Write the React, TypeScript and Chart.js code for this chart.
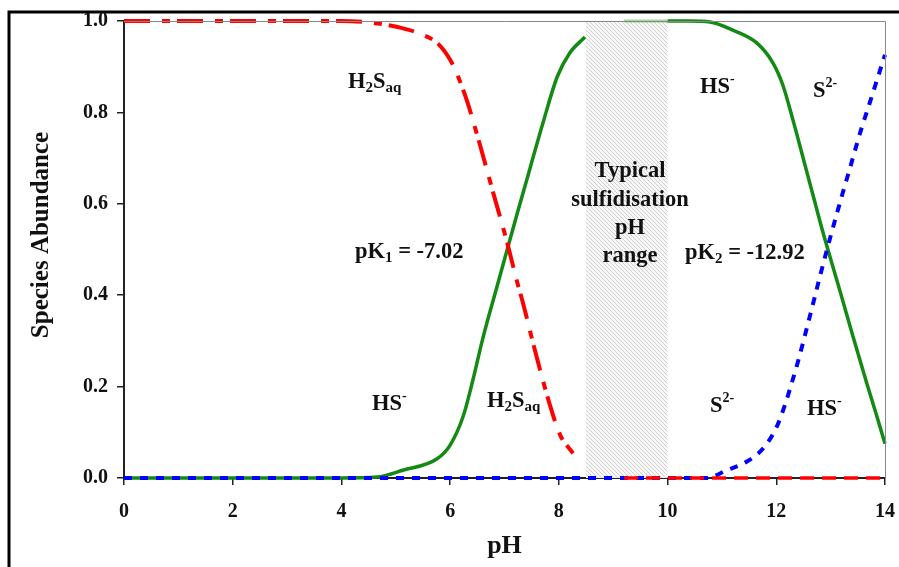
import React, { useEffect, useRef } from "react";
import { Chart, registerables } from "chart.js";

Chart.register(...registerables);

// ---- Data ----
const phH2S = [0, 1, 2, 3, 4, 4.5, 4.76, 5.1, 5.45, 5.78, 6.0, 6.14, 6.31, 6.51, 6.64, 6.79, 6.95, 7.05, 7.23, 7.34, 7.52, 7.71, 7.84, 8.02, 8.26];
const valH2S = [1, 1, 1, 1, 1, 0.997, 0.993, 0.985, 0.972, 0.95, 0.915, 0.88, 0.825, 0.745, 0.69, 0.625, 0.558, 0.515, 0.43, 0.383, 0.298, 0.212, 0.158, 0.095, 0.054];
const phH2SZero = [9.2, 14];
const valH2SZero = [0, 0];

const phHSa = [0, 1, 2, 3, 4, 4.65, 5.13, 5.76, 6.0, 6.24, 6.42, 6.6, 6.86, 7.05, 7.23, 7.47, 7.71, 7.97, 8.2, 8.48];
const valHSa = [0, 0, 0, 0, 0, 0.002, 0.017, 0.042, 0.072, 0.135, 0.215, 0.305, 0.418, 0.5, 0.577, 0.678, 0.778, 0.878, 0.93, 0.965];
const phHSmid = [9.2, 10.0];
const valHSmid = [1, 1];
const phHSb = [10.0, 10.4, 10.78, 11.2, 11.64, 11.94, 12.12, 12.31, 12.49, 12.68, 12.86, 13.17, 13.41, 13.67, 13.85, 14.0];
const valHSb = [1.0, 1.0, 0.998, 0.98, 0.952, 0.908, 0.86, 0.782, 0.702, 0.617, 0.537, 0.41, 0.31, 0.205, 0.135, 0.075];

const phS2 = [0, 2, 4, 6, 8, 10, 10.72, 11.09, 11.46, 11.76, 12.0, 12.16, 12.29, 12.4, 12.49, 12.62, 12.71, 12.8, 12.9, 12.99, 13.13, 13.23, 13.36, 13.48, 13.58, 13.69, 13.85, 14.0];
const valS2 = [0, 0, 0, 0, 0, 0, 0, 0.017, 0.036, 0.065, 0.11, 0.16, 0.21, 0.255, 0.295, 0.355, 0.397, 0.44, 0.485, 0.525, 0.585, 0.627, 0.68, 0.73, 0.77, 0.81, 0.87, 0.926];

const xTicks = [0, 2, 4, 6, 8, 10, 12, 14];
const yTicks = [0, 0.2, 0.4, 0.6, 0.8, 1.0];
const rangeLow = 8.5;
const rangeHigh = 10;

const xTitle = "pH";
const yTitle = "Species Abundance";
const rangeText = ["Typical", "sulfidisation", "pH", "range"];

type Seg = { t: string; m?: "sub" | "sup" };
const labels: { segs: Seg[]; x: number; y: number }[] = [
  { segs: [{ t: "H" }, { t: "2", m: "sub" }, { t: "S" }, { t: "aq", m: "sub" }], x: 348, y: 88 },
  { segs: [{ t: "HS" }, { t: "-", m: "sup" }], x: 700, y: 93 },
  { segs: [{ t: "S" }, { t: "2-", m: "sup" }], x: 813, y: 97 },
  { segs: [{ t: "pK" }, { t: "1", m: "sub" }, { t: " = -7.02" }], x: 355, y: 258 },
  { segs: [{ t: "pK" }, { t: "2", m: "sub" }, { t: " = -12.92" }], x: 685, y: 259 },
  { segs: [{ t: "HS" }, { t: "-", m: "sup" }], x: 372, y: 410 },
  { segs: [{ t: "H" }, { t: "2", m: "sub" }, { t: "S" }, { t: "aq", m: "sub" }], x: 487, y: 407 },
  { segs: [{ t: "S" }, { t: "2-", m: "sup" }], x: 710, y: 412 },
  { segs: [{ t: "HS" }, { t: "-", m: "sup" }], x: 807, y: 415 },
];

const FONT = '"Liberation Serif", "Times New Roman", serif';

const pts = (xs: number[], ys: number[]) => xs.map((x, i) => ({ x, y: ys[i] }));

function makeHatch(ctx: CanvasRenderingContext2D) {
  const c = document.createElement("canvas");
  c.width = 4;
  c.height = 4;
  const g = c.getContext("2d")!;
  g.fillStyle = "#f8f8f8";
  g.fillRect(0, 0, 4, 4);
  g.strokeStyle = "#cfcfcf";
  g.lineWidth = 1;
  for (let k = -4; k <= 4; k += 4) {
    g.beginPath();
    g.moveTo(k, 0);
    g.lineTo(k + 4, 4);
    g.stroke();
  }
  return ctx.createPattern(c, "repeat")!;
}

const decor = {
  id: "decor",
  beforeDraw(chart: any) {
    const ctx = chart.ctx as CanvasRenderingContext2D;
    ctx.save();
    ctx.fillStyle = "#fff";
    ctx.fillRect(0, 0, chart.width, chart.height);
    ctx.strokeStyle = "#000";
    ctx.lineWidth = 3;
    ctx.beginPath();
    ctx.moveTo(9, chart.height);
    ctx.lineTo(9, 12);
    ctx.lineTo(chart.width, 12);
    ctx.stroke();
    ctx.restore();
  },
  beforeDatasetsDraw(chart: any) {
    const ctx = chart.ctx as CanvasRenderingContext2D;
    const xs = chart.scales.x;
    const a = chart.chartArea;
    const x0 = xs.getPixelForValue(rangeLow);
    const x1 = xs.getPixelForValue(rangeHigh);
    ctx.save();
    ctx.fillStyle = makeHatch(ctx);
    ctx.fillRect(x0, a.top, x1 - x0, a.bottom - a.top);
    ctx.restore();
  },
  afterDraw(chart: any) {
    const ctx = chart.ctx as CanvasRenderingContext2D;
    const a = chart.chartArea;
    ctx.save();
    // top / right frame of plot
    ctx.strokeStyle = "#888";
    ctx.lineWidth = 1;
    ctx.beginPath();
    ctx.moveTo(a.left, a.top + 0.5);
    ctx.lineTo(a.right + 0.5, a.top + 0.5);
    ctx.lineTo(a.right + 0.5, a.bottom);
    ctx.stroke();

    ctx.fillStyle = "#111";
    ctx.textBaseline = "alphabetic";
    // annotations
    for (const l of labels) {
      let x = l.x;
      for (const s of l.segs) {
        if (s.m === "sub") {
          ctx.font = `bold 15px ${FONT}`;
          ctx.fillText(s.t, x, l.y + 4);
        } else if (s.m === "sup") {
          ctx.font = `bold 14px ${FONT}`;
          ctx.fillText(s.t, x, l.y - 10);
        } else {
          ctx.font = `bold 22.5px ${FONT}`;
          ctx.fillText(s.t, x, l.y);
        }
        x += ctx.measureText(s.t).width;
      }
    }
    // range text
    ctx.font = `bold 22.5px ${FONT}`;
    ctx.textAlign = "center";
    const baselines = [177, 206, 234, 262];
    rangeText.forEach((t, i) => ctx.fillText(t, 630, baselines[i]));

    // axis titles
    ctx.font = `bold 26px ${FONT}`;
    ctx.textBaseline = "middle";
    ctx.fillText(xTitle, (a.left + a.right) / 2, 546);
    ctx.translate(42, 235);
    ctx.rotate(-Math.PI / 2);
    ctx.font = `bold 25px ${FONT}`;
    ctx.fillText(yTitle, 0, 0);
    ctx.restore();
  },
};

export default function App() {
  const ref = useRef<HTMLCanvasElement>(null);
  useEffect(() => {
    const canvas = ref.current!;
    const common = { pointRadius: 0, fill: false, tension: 0.4, cubicInterpolationMode: "monotone" as const, clip: false as const };
    const chart = new Chart(canvas, {
      type: "line",
      data: {
        datasets: [
          { label: "H2S", data: pts(phH2S, valH2S), borderColor: "#ff0000", borderWidth: 4, borderDash: [26, 12, 8, 7], order: 1, ...common },
          { label: "H2S zero", data: pts(phH2SZero, valH2SZero), borderColor: "#ff0000", borderWidth: 3.5, borderDash: [14, 8], order: 1, ...common },
          { label: "S2-", data: pts(phS2, valS2), borderColor: "#0000ff", borderWidth: 4, borderDash: [8, 8], order: 2, ...common },
          { label: "HS- a", data: pts(phHSa, valHSa), borderColor: "#138a13", borderWidth: 3.5, order: 3, ...common },
          { label: "HS- mid", data: pts(phHSmid, valHSmid), borderColor: "rgba(40,170,40,0.45)", borderWidth: 3, order: 3, ...common },
          { label: "HS- b", data: pts(phHSb, valHSb), borderColor: "#138a13", borderWidth: 3.5, order: 3, ...common },
        ],
      },
      options: {
        responsive: false,
        animation: false,
        layout: { padding: { top: 19, right: 14, left: 0, bottom: 0 } },
        plugins: { legend: { display: false }, tooltip: { enabled: false } },
        scales: {
          x: {
            type: "linear",
            min: 0,
            max: 14,
            afterBuildTicks: (s: any) => {
              s.ticks = xTicks.map((v) => ({ value: v }));
            },
            afterFit: (s: any) => {
              s.height = 89;
              s.paddingRight = 0;
              s.paddingLeft = 0;
            },
            ticks: { font: { family: FONT, size: 20, weight: "bold" }, color: "#111", padding: 15, callback: (v: any) => String(v) },
            grid: { drawOnChartArea: false, drawTicks: true, tickLength: 7, color: "#222", lineWidth: 1.5 },
            border: { display: true, color: "#222", width: 2 },
          },
          y: {
            type: "linear",
            min: 0,
            max: 1,
            afterBuildTicks: (s: any) => {
              s.ticks = yTicks.map((v) => ({ value: v }));
            },
            afterFit: (s: any) => {
              s.width = 124;
            },
            ticks: { font: { family: FONT, size: 20, weight: "bold" }, color: "#111", padding: 9, callback: (v: any) => Number(v).toFixed(1) },
            grid: { drawOnChartArea: false, drawTicks: true, tickLength: 7, color: "#222", lineWidth: 1.5 },
            border: { display: true, color: "#222", width: 2 },
          },
        },
      },
      plugins: [decor],
    });
    return () => chart.destroy();
  }, []);
  return (
    <div style={{ position: "fixed", left: 0, top: 0, width: 899, height: 567 }}>
      <canvas ref={ref} width={899} height={567} style={{ display: "block" }} />
    </div>
  );
}
